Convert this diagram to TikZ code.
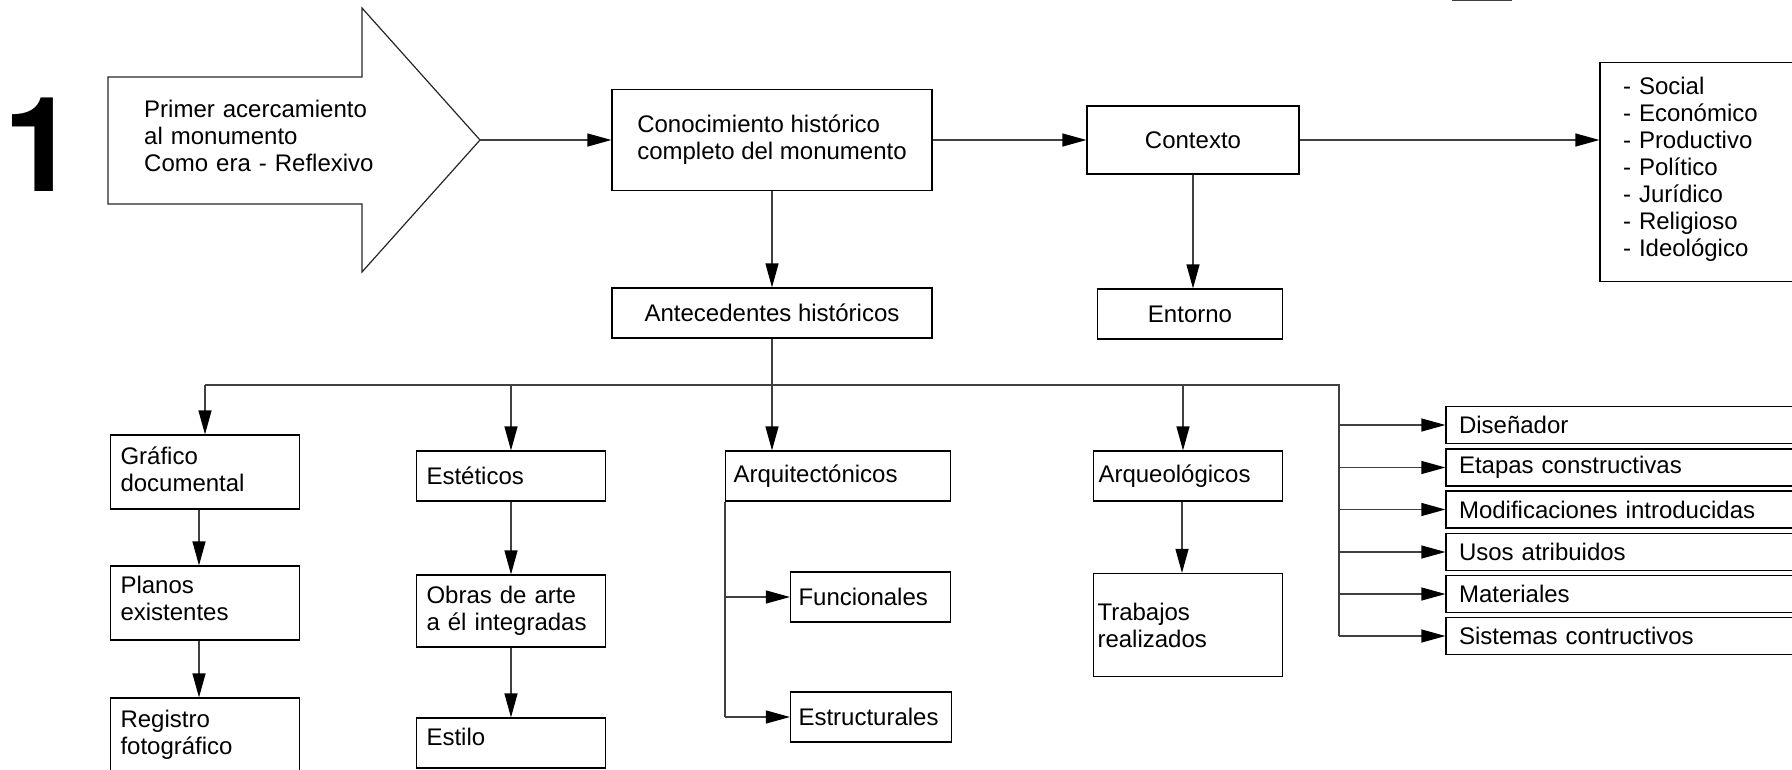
\documentclass[tikz,border=0pt]{standalone}
\usepackage{fontspec}
\setmainfont{Liberation Sans}
\newfontfamily\bignum{TeX Gyre Heros}
\usetikzlibrary{arrows.meta}
\newcommand{\fsz}{\fontsize{24}{27}\selectfont}

\begin{document}
\begin{tikzpicture}[x=1pt,y=-1pt,
    box/.style={draw=black,line width=1.2pt,inner xsep=#1,inner ysep=0pt,align=left,font=\fsz},
    box/.default=10pt,
    con/.style={draw=black!75,line width=1.2pt},
    arr/.style={con,-{Triangle[length=24pt,width=13pt,color=black]}}]

     \useasboundingbox (0,0) rectangle (1792,769);
     \clip (0,0) rectangle (1792,769);

     % step number and the big arrow
     \node[font=\bignum\bfseries\fontsize{132}{132}\selectfont,inner sep=0pt,anchor=base west] (num) at (3.6,191) {1};
     \draw[con,draw=black!85] (108,77) -- (362,77) -- (362,8) -- (480,140) -- (362,272) -- (362,204) -- (108,204) -- cycle;
     \coordinate (tip) at (480,140);
     \node[font=\fsz,align=left,text width=240pt,inner sep=0pt,anchor=base west] (primer) at (144,117)
          {Primer acercamiento\\al monumento\\Como era - Reflexivo};

     % top row
     \node[box,minimum width=320pt,minimum height=101pt] (conoc) at (772,140) {Conocimiento histórico\\completo del monumento};
     \node[box,minimum width=320pt,minimum height=50pt] (antec) at (772,313) {Antecedentes históricos};
     \node[box,minimum width=212pt,minimum height=68pt] (contexto) at (1193,140) {Contexto};
     \node[box,minimum width=185pt,minimum height=50pt] (entorno) at (1190,314) {Entorno};
     \node[box=23pt,text width=194pt,minimum height=219pt,text height=12pt,text depth=167.4pt] (factores) at (1720,172)
          {- Social\\- Económico\\- Productivo\\- Político\\- Jurídico\\- Religioso\\- Ideológico};
     \draw[con] (1453,-20) rectangle (1511,0.5); % box cut off at the top

     \draw[arr] (tip) -- (tip -| conoc.west);
     \draw[arr] (tip -| conoc.east) -- (contexto.west);
     \draw[arr] (contexto.east) -- (contexto.east -| factores.west);
     \draw[arr] (conoc.south) -- (antec.north);
     \draw[arr] (contexto.south) -- (contexto.south |- entorno.north);

     % grafico documental
     \node[box,text width=169pt,minimum height=74pt,text height=12pt,text depth=28pt] (grafico) at (205,472) {Gráfico\\documental};
     \node[box,text width=169pt,minimum height=74pt,text height=8pt,text depth=27.4pt] (planos) at (205,603) {Planos\\existentes};
     \node[box,text width=169pt,minimum height=74pt] (registro) at (205,735) {Registro\\fotográfico};
     % esteticos
     \node[box,text width=169pt,minimum height=50pt] (esteticos) at (511,476) {Estéticos};
     \node[box,text width=169pt,minimum height=72pt] (obras) at (511,611) {Obras de arte\\a él integradas};
     \node[box,text width=169pt,minimum height=50pt,text height=17pt,text depth=13pt] (estilo) at (511,743) {Estilo};
     % arquitectonicos
     \node[box=8pt,text width=209pt,minimum height=50pt] (arquit) at (838,476) {Arquitectónicos};
     \node[box=8pt,text width=144pt,minimum height=50pt] (funcion) at (870.5,597) {Funcionales};
     \node[box=8pt,text width=145pt,minimum height=50pt] (estruct) at (871,717) {Estructurales};
     % arqueologicos
     \node[box=5pt,text width=179pt,minimum height=50pt] (arqueol) at (1188,476) {Arqueológicos};
     \node[box=4pt,text width=181pt,minimum height=103pt] (trabajos) at (1188,625) {Trabajos\\realizados};
     % right column
     \node[box=13pt,text width=374pt,minimum height=37pt] (disenador) at (1646,425) {Diseñador};
     \node[box=13pt,text width=374pt,minimum height=37pt] (etapas) at (1646,467.5) {Etapas constructivas};
     \node[box=13pt,text width=374pt,minimum height=37pt] (modif) at (1646,509.5) {Modificaciones introducidas};
     \node[box=13pt,text width=374pt,minimum height=37pt] (usos) at (1646,552) {Usos atribuidos};
     \node[box=13pt,text width=374pt,minimum height=37pt] (materiales) at (1646,594) {Materiales};
     \node[box=13pt,text width=374pt,minimum height=37pt] (sistemas) at (1646,636) {Sistemas contructivos};

     % the bus under antecedentes
     \coordinate (bus) at (1339,385);
     \draw[con] (grafico.north |- bus) -- (bus) -- (bus |- sistemas.west);
     \draw[arr] (antec.south) -- (antec.south |- arquit.north);
     \draw[arr] (grafico.north |- bus) -- (grafico.north);
     \draw[arr] (esteticos.north |- bus) -- (esteticos.north);
     \draw[arr] ([xshift=-5pt]arqueol.north |- bus) -- ([xshift=-5pt]arqueol.north);

     \draw[arr] ([xshift=-6pt]grafico.south) -- ([xshift=-6pt]planos.north);
     \draw[arr] ([xshift=-6pt]planos.south) -- ([xshift=-6pt]registro.north);
     \draw[arr] (esteticos.south) -- (obras.north);
     \draw[arr] (obras.south) -- (estilo.north);
     \draw[arr] ([xshift=-6pt]arqueol.south) -- ([xshift=-6pt]trabajos.north);

     \draw[con] (arquit.south west) -- (arquit.south west |- estruct.west);
     \draw[arr] (arquit.south west |- funcion.west) -- (funcion.west);
     \draw[arr] (arquit.south west |- estruct.west) -- (estruct.west);

     \draw[arr] (bus |- disenador.west) -- (disenador.west);
     \draw[arr] (bus |- etapas.west) -- (etapas.west);
     \draw[arr] (bus |- modif.west) -- (modif.west);
     \draw[arr] (bus |- usos.west) -- (usos.west);
     \draw[arr] (bus |- materiales.west) -- (materiales.west);
     \draw[arr] (bus |- sistemas.west) -- (sistemas.west);
  \end{tikzpicture}
\end{document}
